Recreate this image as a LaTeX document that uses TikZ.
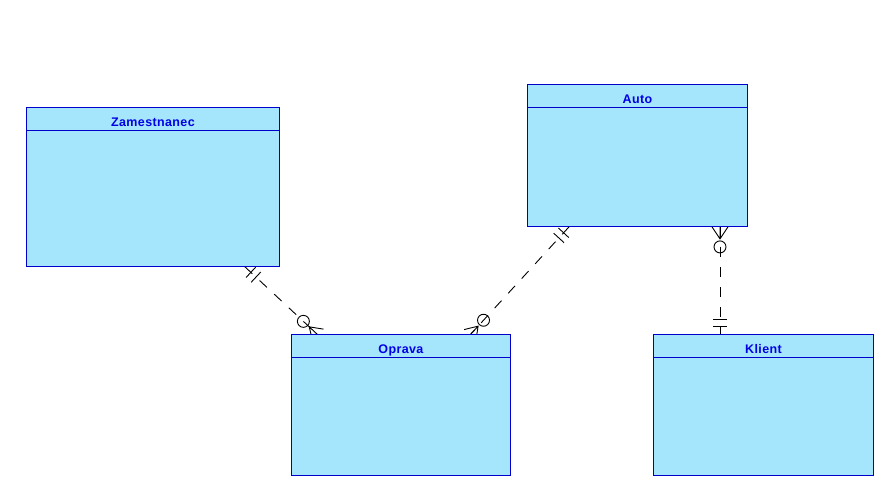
\documentclass[tikz,border=0pt]{standalone}
\usepackage{fontspec}
\setmainfont{Liberation Sans}
\usetikzlibrary{calc,backgrounds}
\definecolor{ERFill}{HTML}{A6E6FC}
\definecolor{ERBlue}{HTML}{0000CC}
\definecolor{ERText}{HTML}{0000E6}
\tikzset{
    entity/.style={draw=ERBlue, fill=ERFill, line width=.9pt, anchor=north west, inner sep=0pt},
    etitle/.style={text=ERText, anchor=base, inner sep=0pt, font=\bfseries\fontsize{12.5}{12.5}\selectfont\addfontfeature{LetterSpace=3}},
    rel/.style={line width=.9pt, dash pattern=on 10pt off 10pt},
    relmark/.style={line width=.9pt}
}
\newcommand{\onebars}[2]{
    \foreach \d in {8pt,15pt}
        {
            \coordinate (m) at ($(#1)!\d!(#2)$);
            \draw[relmark] ($(m)!7pt!90:(#2)$) -- ($(m)!7pt!-90:(#2)$);
        }
}
\newcommand{\zeromany}[2]{
    \coordinate (ap) at ($(#1)!12pt!(#2)$);
    \draw[relmark] ($(#1)!8pt!90:(#2)$) -- (ap) -- ($(#1)!8pt!-90:(#2)$) (ap) -- (#1);
    \draw[relmark] ($(#1)!20pt!(#2)$) circle (6pt);
}
\begin{document}
\begin{tikzpicture}[x=1pt, y=1pt]
        \useasboundingbox (0,0) rectangle (885,487);
        \foreach \nm/\x/\y/\w/\h/\t in {zam/26/380/253/159/Zamestnanec, aut/527/403/220/142/Auto, opr/291/153/219/141/Oprava, kli/653/153/220/141/Klient}
            {
                \node[entity, minimum width=\w pt, minimum height=\h pt] (\nm) at (\x,\y) {};
                \draw[ERBlue, line width=.9pt] ($(\nm.north west)+(0,-23.5)$) -- ($(\nm.north east)+(0,-23.5)$);
                \node[etitle] (\nm-t) at ($(\nm.north)+(0,-19.5)$) {\t};
            }
        \coordinate (zam-o) at ($(zam.south west)+(219,0)$);
        \coordinate (opr-z) at ($(opr.north west)+(27,-1)$);
        \coordinate (aut-o) at ($(aut.south west)+(42,0)$);
        \coordinate (opr-a) at ($(opr.north west)+(179,-1)$);
        \coordinate (aut-k) at ($(aut.south west)+(193,0)$);
        \coordinate (kli-a) at ($(kli.north west)+(67,0)$);
        \begin{scope}[on background layer]
            \draw[rel] (zam-o) -- (opr-z);
            \draw[rel] (aut-o) -- (opr-a);
            \draw[rel] (aut-k) -- (kli-a);
            \onebars{zam-o}{opr-z}
            \onebars{aut-o}{opr-a}
            \onebars{kli-a}{aut-k}
            \zeromany{opr-z}{zam-o}
            \zeromany{opr-a}{aut-o}
            \zeromany{aut-k}{kli-a}
        \end{scope}
\end{tikzpicture}
\end{document}
